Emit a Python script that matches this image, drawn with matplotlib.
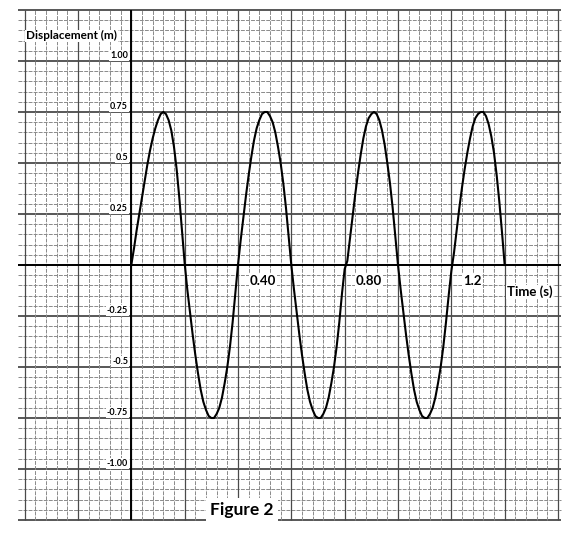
import numpy as np
import matplotlib.pyplot as plt

plt.rcParams["font.family"] = ["Lato", "DejaVu Sans"]

# displacement every 0.01 s
time_s = [0.00, 0.01, 0.02, 0.03, 0.04, 0.05, 0.06, 0.07, 0.08, 0.09,
          0.10, 0.11, 0.12, 0.13, 0.14, 0.15, 0.16, 0.17, 0.18, 0.19,
          0.20, 0.21, 0.22, 0.23, 0.24, 0.25, 0.26, 0.27, 0.28, 0.29,
          0.30, 0.31, 0.32, 0.33, 0.34, 0.35, 0.36, 0.37, 0.38, 0.39,
          0.40, 0.41, 0.42, 0.43, 0.44, 0.45, 0.46, 0.47, 0.48, 0.49,
          0.50, 0.51, 0.52, 0.53, 0.54, 0.55, 0.56, 0.57, 0.58, 0.59,
          0.60, 0.61, 0.62, 0.63, 0.64, 0.65, 0.66, 0.67, 0.68, 0.69,
          0.70, 0.71, 0.72, 0.73, 0.74, 0.75, 0.76, 0.77, 0.78, 0.79,
          0.80, 0.81, 0.82, 0.83, 0.84, 0.85, 0.86, 0.87, 0.88, 0.89,
          0.90, 0.91, 0.92, 0.93, 0.94, 0.95, 0.96, 0.97, 0.98, 0.99,
          1.00, 1.01, 1.02, 1.03, 1.04, 1.05, 1.06, 1.07, 1.08, 1.09,
          1.10, 1.11, 1.12, 1.13, 1.14, 1.15, 1.16, 1.17, 1.18, 1.19,
          1.20, 1.21, 1.22, 1.23, 1.24, 1.25, 1.26, 1.27, 1.28, 1.29,
          1.30, 1.31, 1.32, 1.33, 1.34, 1.35, 1.36, 1.37, 1.38, 1.39,
          1.40]
disp_m = [0.00, 0.08, 0.17, 0.25, 0.33, 0.41, 0.49, 0.56, 0.62, 0.67,
          0.71, 0.74, 0.75, 0.74, 0.71, 0.66, 0.58, 0.47, 0.33, 0.17,
          0.01, -0.12, -0.23, -0.34, -0.44, -0.53, -0.61, -0.67, -0.71, -0.74,
          -0.75, -0.75, -0.73, -0.70, -0.65, -0.58, -0.50, -0.40, -0.28, -0.14,
          0.00, 0.12, 0.23, 0.34, 0.44, 0.53, 0.61, 0.67, 0.71, 0.74,
          0.75, 0.75, 0.73, 0.70, 0.65, 0.58, 0.50, 0.40, 0.28, 0.14,
          0.00, -0.12, -0.23, -0.34, -0.44, -0.53, -0.61, -0.67, -0.71, -0.74,
          -0.75, -0.75, -0.73, -0.70, -0.65, -0.58, -0.50, -0.40, -0.28, -0.14,
          -0.02, 0.02, 0.13, 0.24, 0.35, 0.45, 0.54, 0.62, 0.68, 0.72,
          0.74, 0.75, 0.74, 0.71, 0.66, 0.59, 0.50, 0.40, 0.28, 0.14,
          0.00, -0.12, -0.23, -0.34, -0.44, -0.53, -0.61, -0.67, -0.71, -0.74,
          -0.75, -0.75, -0.73, -0.70, -0.65, -0.58, -0.50, -0.40, -0.28, -0.15,
          -0.03, 0.06, 0.17, 0.28, 0.38, 0.47, 0.55, 0.62, 0.68, 0.72,
          0.74, 0.75, 0.75, 0.73, 0.69, 0.63, 0.55, 0.44, 0.31, 0.16,
          0.00]

y_labels = ["1.00", "0.75", "0.5", "0.25", "-0.25", "-0.5", "-0.75", "-1.00"]
y_label_vals = [1.00, 0.75, 0.5, 0.25, -0.25, -0.5, -0.75, -1.00]
x_labels = ["0.40", "0.80", "1.2"]
x_label_vals = [0.40, 0.80, 1.20]

fig = plt.figure(figsize=(5.85, 5.43), dpi=100)
ax = fig.add_axes([0, 0, 1, 1])
ax.set_xlim(-0.4923, 1.7012)
ax.set_ylim(-1.3627, 1.2990)
ax.axis("off")

# graph paper
t0, t1 = -0.425, 1.61
ys = np.round(np.arange(-1.25, 1.2501, 0.05), 2)
ts = np.round(np.arange(-0.40, 1.6001, 0.04), 2)
for y in ys:
    if abs(y / 0.25 - round(y / 0.25)) < 1e-6:
        ax.hlines(y, t0, t1, color="#2a2a2a", lw=1.1, zorder=1)
    else:
        ax.hlines(y, t0, t1, color="#8a8a8a", lw=0.7, ls=(0, (4, 1.2)), zorder=1)
for t in ts:
    if abs(t / 0.2 - round(t / 0.2)) < 1e-6:
        ax.vlines(t, -1.25, 1.25, color="#4a4a4a", lw=0.9, zorder=1)
    else:
        ax.vlines(t, -1.25, 1.25, color="#8a8a8a", lw=0.7, ls=(0, (4, 1.2)), zorder=1)

# axes
ax.hlines(0, t0, t1, color="black", lw=1.4, zorder=2)
ax.vlines(0, -1.25, 1.25, color="black", lw=1.4, zorder=2)

ax.plot(time_s, disp_m, color="black", lw=1.5, zorder=4)

box = dict(facecolor="white", edgecolor="none", pad=0.6)
ax.text(-0.395, 1.123, "Displacement (m)", fontsize=8.5, fontweight="bold",
        ha="left", va="center", bbox=box, zorder=3)
for lab, v in zip(y_labels, y_label_vals):
    ax.text(-0.012, v + 0.026, lab, fontsize=6.5, fontweight="bold",
            ha="right", va="center", bbox=box, zorder=3)
for lab, v in zip(x_labels, x_label_vals):
    ax.text(v + 0.043, -0.078, lab, fontsize=9.5, fontweight="bold",
            ha="left", va="center", bbox=box, zorder=3)
ax.text(1.409, -0.132, "Time (s)", fontsize=9.5, fontweight="bold",
        ha="left", va="center", bbox=box, zorder=3)
ax.text(0.295, -1.20, "Figure 2", fontsize=12.5, fontweight="bold",
        ha="left", va="center", bbox=dict(facecolor="white", edgecolor="none", pad=3),
        zorder=3)

fig.savefig("out.png", dpi=100)
